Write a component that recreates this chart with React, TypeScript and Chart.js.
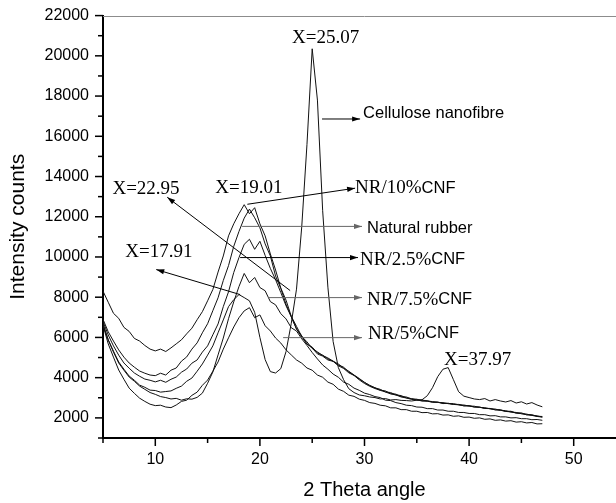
import React, { useEffect, useRef } from 'react';
import { Chart, registerables } from 'chart.js';

Chart.register(...registerables);

// ---------- data ----------
const twoTheta = [
  5, 5.5, 6, 6.5, 7, 7.5, 8, 8.5, 9, 9.5,
  10, 10.5, 11, 11.5, 12, 12.5, 13, 13.5, 14, 14.5,
  15, 15.5, 16, 16.5, 17, 17.5, 18, 18.5, 19, 19.5,
  20, 20.5, 21, 21.5, 22, 22.5, 23, 23.5, 24, 24.5,
  25, 25.5, 26, 26.5, 27, 27.5, 28, 28.5, 29, 29.5,
  30, 30.5, 31, 31.5, 32, 32.5, 33, 33.5, 34, 34.5,
  35, 35.5, 36, 36.5, 37, 37.5, 38, 38.5, 39, 39.5,
  40, 40.5, 41, 41.5, 42, 42.5, 43, 43.5, 44, 44.5,
  45, 45.5, 46, 46.5, 47,
];

const nr10CNF = [
  8300, 7750, 7200, 6950, 6500, 6300, 5950, 5820, 5600, 5420,
  5330, 5420, 5300, 5480, 5680, 5880, 6180, 6460, 6880, 7280,
  7820, 8380, 9250, 10050, 11050, 11650, 12150, 12600, 12150, 12450,
  11650, 11050, 10150, 9350, 8450, 7850, 7050, 6550, 6050, 5780,
  5450, 5280, 5100, 4980, 4820, 4680, 4480, 4320, 4130, 3960,
  3760, 3620, 3490, 3420, 3290, 3260, 3140, 3110, 2990, 2960,
  2890, 2890, 2840, 2810, 2770, 2760, 2710, 2710, 2650, 2640,
  2590, 2580, 2520, 2510, 2450, 2440, 2370, 2360, 2290, 2270,
  2210, 2190, 2120, 2100, 2040,
];

const naturalRubber = [
  6900, 6280, 5820, 5380, 5020, 4730, 4520, 4330, 4220, 4130,
  4100, 4220, 4130, 4370, 4480, 4820, 5030, 5420, 5730, 6230,
  6680, 7330, 7970, 8830, 9570, 10530, 11270, 11930, 12380, 11950,
  11450, 10650, 10050, 9050, 8430, 7650, 7030, 6420, 6020, 5680,
  5470, 5180, 5070, 4880, 4810, 4590, 4460, 4240, 4110, 3890,
  3710, 3570, 3460, 3370, 3290, 3190, 3140, 3040, 2990, 2920,
  2890, 2840, 2830, 2780, 2770, 2730, 2710, 2670, 2650, 2600,
  2590, 2540, 2530, 2470, 2460, 2400, 2380, 2320, 2300, 2240,
  2210, 2160, 2130, 2070, 2040,
];

const nr25CNF = [
  6800, 6120, 5580, 5120, 4730, 4470, 4230, 4070, 3930, 3870,
  3790, 3870, 3770, 3920, 4030, 4270, 4430, 4720, 4880, 5270,
  5580, 6130, 6670, 7530, 8270, 9230, 9970, 10630, 10880, 10380,
  10780, 10080, 9430, 8870, 8230, 7570, 7030, 6420, 6080, 5670,
  5520, 5230, 5120, 4930, 4820, 4630, 4520, 4280, 4120, 3930,
  3770, 3600, 3500, 3380, 3340, 3210, 3180, 3060, 3040, 2940,
  2930, 2850, 2850, 2780, 2790, 2710, 2730, 2670, 2670, 2600,
  2610, 2540, 2540, 2470, 2470, 2400, 2410, 2320, 2330, 2240,
  2250, 2150, 2160, 2080, 2070,
];

const celluloseNanofibre = [
  6600, 5880, 5320, 4780, 4420, 4080, 3870, 3630, 3520, 3380,
  3360, 3280, 3310, 3340, 3470, 3580, 3820, 3980, 4320, 4680,
  5120, 5580, 6230, 6870, 7530, 7880, 8130, 7980, 7820, 7250,
  6000, 4900, 4300, 4230, 4450, 5300, 6700, 8400, 11500, 15600,
  20350, 17800, 12300, 8500, 5800, 4500, 3900, 3450, 3260, 3140,
  3100, 3040, 3010, 2940, 2960, 2890, 2910, 2870, 2860, 2840,
  2880, 2900, 3100, 3500, 4050, 4420, 4500, 3900, 3300, 3080,
  3010, 2940, 2910, 2960, 2840, 2910, 2840, 2790, 2860, 2740,
  2800, 2690, 2760, 2640, 2550,
];

const nr75CNF = [
  6700, 5880, 5270, 4730, 4370, 4030, 3820, 3580, 3420, 3260,
  3170, 3060, 3010, 2940, 2970, 2880, 2950, 2930, 3020, 3230,
  3720, 4280, 5130, 5970, 6930, 7770, 8530, 9180, 8720, 8980,
  8480, 8320, 7780, 7620, 7180, 6920, 6480, 6320, 5930, 5600,
  5250, 4930, 4630, 4420, 4180, 4020, 3780, 3670, 3480, 3370,
  3230, 3160, 3060, 3010, 2880, 2860, 2760, 2710, 2630, 2610,
  2540, 2530, 2460, 2460, 2390, 2390, 2330, 2330, 2270, 2270,
  2220, 2220, 2160, 2160, 2100, 2110, 2050, 2050, 2000, 2010,
  1960, 1960, 1910, 1920, 1880,
];

const nr5CNF = [
  6600, 5680, 5020, 4380, 3920, 3480, 3220, 2980, 2820, 2680,
  2610, 2630, 2540, 2510, 2640, 2820, 2880, 3120, 3280, 3620,
  3880, 4320, 4780, 5420, 5980, 6520, 6980, 7320, 7480, 6980,
  7120, 6580, 6320, 5970, 5720, 5380, 5130, 4880, 4720, 4480,
  4370, 4130, 4020, 3780, 3670, 3430, 3320, 3130, 3070, 2930,
  2870, 2760, 2720, 2630, 2600, 2500, 2500, 2410, 2410, 2330,
  2330, 2260, 2270, 2200, 2210, 2140, 2150, 2080, 2100, 2030,
  2040, 1980, 2000, 1930, 1950, 1880, 1900, 1840, 1860, 1790,
  1810, 1750, 1770, 1700, 1710,
];

const seriesNames = ['NR/10%CNF', 'Natural rubber', 'NR/2.5%CNF', 'Cellulose nanofibre', 'NR/7.5%CNF', 'NR/5%CNF'];
const seriesValues = [nr10CNF, naturalRubber, nr25CNF, celluloseNanofibre, nr75CNF, nr5CNF];

const xAxisTitle = '2 Theta angle';
const yAxisTitle = 'Intensity counts';

// ---------- annotations (data coordinates) ----------
type Part = [string, 'serif' | 'sans'];
const annotationTexts: { parts: Part[]; x: number; y: number }[] = [
  { parts: [['X=25.07', 'serif']], x: 23.08, y: 20900 },
  { parts: [['Cellulose nanofibre', 'sans']], x: 29.86, y: 17160 },
  { parts: [['NR/10%', 'serif'], ['CNF', 'sans']], x: 29.1, y: 13420 },
  { parts: [['Natural rubber', 'sans']], x: 30.24, y: 11420 },
  { parts: [['NR/2.5%', 'serif'], ['CNF', 'sans']], x: 29.57, y: 9870 },
  { parts: [['NR/7.5%', 'serif'], ['CNF', 'sans']], x: 30.24, y: 7880 },
  { parts: [['NR/5%', 'serif'], ['CNF', 'sans']], x: 30.34, y: 6180 },
  { parts: [['X=22.95', 'serif']], x: 5.9, y: 13370 },
  { parts: [['X=19.01', 'serif']], x: 15.73, y: 13420 },
  { parts: [['X=17.91', 'serif']], x: 7.13, y: 10270 },
  { parts: [['X=37.97', 'serif']], x: 37.6, y: 4880 },
];

const annotationArrows: { from: [number, number]; to: [number, number]; color: string }[] = [
  { from: [25.94, 16860], to: [29.58, 16860], color: '#000' },
  { from: [18.8, 12620], to: [29.1, 13420], color: '#000' },
  { from: [18.3, 11520], to: [29.76, 11520], color: '#666' },
  { from: [18.11, 9970], to: [29.38, 9970], color: '#000' },
  { from: [20.79, 7980], to: [29.76, 7980], color: '#666' },
  { from: [22.22, 5990], to: [29.76, 5990], color: '#666' },
  { from: [22.89, 8330], to: [11.14, 12970], color: '#000' },
  { from: [18.11, 8130], to: [10.09, 9375], color: '#000' },
];

const SERIF = '"Liberation Serif", "Times New Roman", serif';
const SANS = '"Liberation Sans", Arial, sans-serif';

const decorations = {
  id: 'decorations',
  afterDraw(chart: any) {
    const { ctx, chartArea, scales } = chart;
    const xs = scales.x;
    const ys = scales.y;
    ctx.save();
    // top frame line
    ctx.strokeStyle = '#8c8c8c';
    ctx.lineWidth = 1;
    ctx.beginPath();
    ctx.moveTo(chartArea.left, Math.round(chartArea.top) + 0.5);
    ctx.lineTo(chartArea.right, Math.round(chartArea.top) + 0.5);
    ctx.stroke();

    // tick marks
    ctx.strokeStyle = '#000';
    ctx.lineWidth = 1.5;
    xs.ticks.forEach((t: any) => {
      const px = xs.getPixelForValue(t.value);
      const len = t.value % 10 === 0 ? 8 : 5;
      ctx.beginPath();
      ctx.moveTo(px, chartArea.bottom);
      ctx.lineTo(px, chartArea.bottom + len);
      ctx.stroke();
    });
    ys.ticks.forEach((t: any) => {
      const py = ys.getPixelForValue(t.value);
      const len = t.value % 2000 === 0 ? 8 : 5;
      ctx.beginPath();
      ctx.moveTo(chartArea.left, py);
      ctx.lineTo(chartArea.left - len, py);
      ctx.stroke();
    });

    // arrows
    annotationArrows.forEach((a) => {
      const x1 = xs.getPixelForValue(a.from[0]);
      const y1 = ys.getPixelForValue(a.from[1]);
      const x2 = xs.getPixelForValue(a.to[0]);
      const y2 = ys.getPixelForValue(a.to[1]);
      ctx.strokeStyle = a.color;
      ctx.fillStyle = a.color;
      ctx.lineWidth = 1;
      ctx.beginPath();
      ctx.moveTo(x1, y1);
      ctx.lineTo(x2, y2);
      ctx.stroke();
      const ang = Math.atan2(y2 - y1, x2 - x1);
      const L = 8;
      const W = 2.6;
      ctx.beginPath();
      ctx.moveTo(x2, y2);
      ctx.lineTo(x2 - L * Math.cos(ang) + W * Math.sin(ang), y2 - L * Math.sin(ang) - W * Math.cos(ang));
      ctx.lineTo(x2 - L * Math.cos(ang) - W * Math.sin(ang), y2 - L * Math.sin(ang) + W * Math.cos(ang));
      ctx.closePath();
      ctx.fill();
    });

    // texts
    ctx.textBaseline = 'middle';
    ctx.textAlign = 'left';
    ctx.fillStyle = '#000';
    annotationTexts.forEach((a) => {
      let px = xs.getPixelForValue(a.x);
      const py = ys.getPixelForValue(a.y);
      a.parts.forEach(([txt, kind]) => {
        ctx.font = kind === 'serif' ? `19px ${SERIF}` : `16.5px ${SANS}`;
        ctx.fillText(txt, px, py);
        px += ctx.measureText(txt).width;
      });
    });
    ctx.restore();
  },
};

export default function App() {
  const ref = useRef<HTMLCanvasElement | null>(null);

  useEffect(() => {
    if (!ref.current) return;
    Chart.defaults.font.family = SANS;
    Chart.defaults.color = '#000';
    const chart = new Chart(ref.current, {
      type: 'line',
      data: {
        datasets: seriesValues.map((vals, si) => ({
          label: seriesNames[si],
          data: twoTheta.map((x, i) => ({ x, y: vals[i] })),
          borderColor: '#111',
          borderWidth: 1,
          pointRadius: 0,
          fill: false,
          tension: 0,
        })),
      },
      options: {
        responsive: false,
        animation: false,
        layout: { padding: { left: 0, right: 14, top: 15, bottom: 0 } },
        plugins: { legend: { display: false }, tooltip: { enabled: false } },
        scales: {
          x: {
            type: 'linear',
            position: 'bottom',
            min: 5,
            max: 55,
            ticks: {
              stepSize: 5,
              autoSkip: false,
              maxRotation: 0,
              padding: 4,
              color: '#000',
              font: { size: 16 },
              callback: (v: any) => (Number(v) % 10 === 0 ? String(v) : ''),
            },
            grid: { display: true, drawOnChartArea: false, drawTicks: true, tickLength: 8, tickColor: 'rgba(0,0,0,0)' },
            border: { display: true, color: '#000', width: 2 },
            title: { display: true, text: xAxisTitle, color: '#000', font: { size: 20 }, padding: { top: 0, bottom: 1 } },
            afterFit: (s: any) => {
              s.height = 65;
            },
          },
          y: {
            type: 'linear',
            min: 1000,
            max: 22000,
            ticks: {
              stepSize: 1000,
              autoSkip: false,
              padding: 6,
              color: '#000',
              font: { size: 16 },
              callback: (v: any) => (Number(v) % 2000 === 0 ? String(v) : ''),
            },
            grid: { display: true, drawOnChartArea: false, drawTicks: true, tickLength: 8, tickColor: 'rgba(0,0,0,0)' },
            border: { display: true, color: '#000', width: 2 },
            title: { display: true, text: yAxisTitle, color: '#000', font: { size: 21 }, padding: { top: 6, bottom: 0 } },
            afterFit: (s: any) => {
              s.width = 103;
            },
          },
        },
      },
      plugins: [decorations],
    });
    return () => chart.destroy();
  }, []);

  return (
    <div style={{ position: 'fixed', left: 0, top: 0, width: '100vw', height: '100vh', overflow: 'hidden', background: '#fff' }}>
      <div style={{ position: 'absolute', left: 0, top: 0, width: 640, height: 503 }}>
        <canvas ref={ref} width={640} height={503} style={{ display: 'block', width: 640, height: 503 }} />
      </div>
    </div>
  );
}
